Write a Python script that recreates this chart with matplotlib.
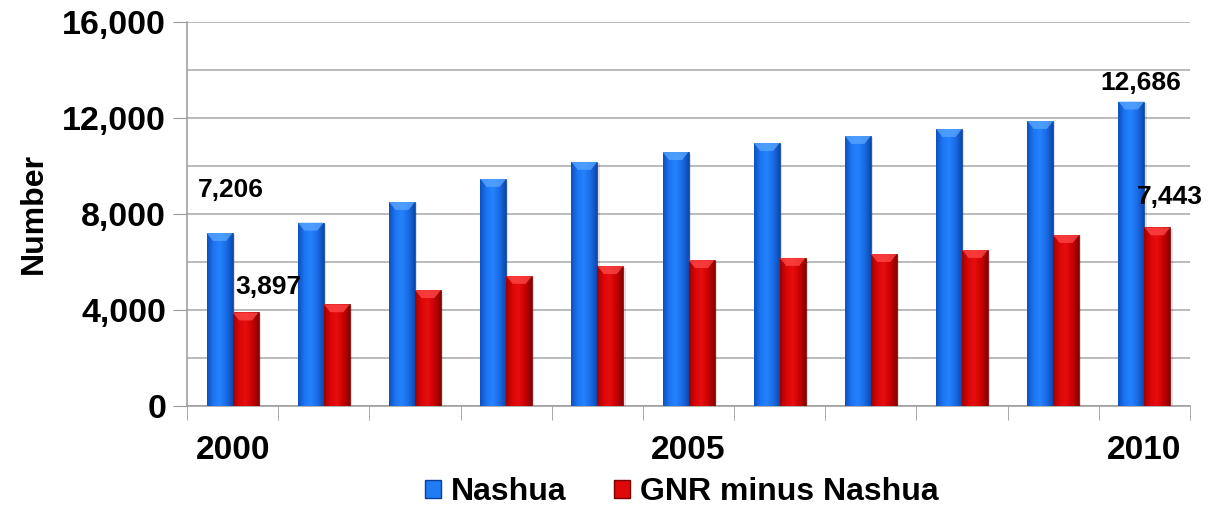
import numpy as np
import matplotlib.pyplot as plt
from matplotlib.colors import LinearSegmentedColormap
from matplotlib.patches import Polygon, Patch

plt.rcParams['font.family'] = ['Liberation Sans', 'DejaVu Sans']
plt.rcParams['font.weight'] = 'bold'

years = list(range(2000, 2011))
nashua = [7206, 7640, 8500, 9460, 10170, 10580, 10960, 11250, 11540, 11875, 12686]
gnr_minus = [3897, 4237, 4830, 5420, 5830, 6080, 6170, 6330, 6500, 7125, 7443]
year_labels = ['2000', '2005', '2010']

fig = plt.figure(figsize=(12.17, 5.08), dpi=100)
ax = fig.add_axes([0.1537, 0.2008, 0.8241, 0.7559])

x = np.arange(len(years))
w = 0.285

blue_cmap = LinearSegmentedColormap.from_list(
    'b', ['#0d50c0', '#1c76f2', '#2582fc', '#1a6ce6', '#0c49b0'])
red_cmap = LinearSegmentedColormap.from_list(
    'r', ['#a00000', '#dc0606', '#e60e0e', '#c80000', '#8a0000'])

grad = np.linspace(0, 1, 64).reshape(1, -1)


def shaded_bars(xs, vals, cmap, top_color, edge):
    bars = ax.bar(xs, vals, width=w, color='none', edgecolor=edge,
                  linewidth=0.6, zorder=3)
    for b in bars:
        x0, y0 = b.get_x(), b.get_y()
        bw, bh = b.get_width(), b.get_height()
        # soft shadow on the right
        ax.bar(x0 + bw / 2 + 0.025, bh, width=bw, bottom=y0 - 60,
               color='#000000', alpha=0.12, zorder=2, linewidth=0)
        im = ax.imshow(grad, cmap=cmap, aspect='auto',
                       extent=[x0, x0 + bw, y0, y0 + bh], zorder=3)
        im.set_clip_path(b)
        # bevelled top
        cap = Polygon([[x0, y0 + bh], [x0 + bw, y0 + bh],
                       [x0 + bw * 0.75, y0 + bh - 330],
                       [x0 + bw * 0.25, y0 + bh - 330]],
                      closed=True, color=top_color, alpha=0.75,
                      zorder=4, linewidth=0)
        ax.add_patch(cap)
    return bars


shaded_bars(x - w / 2, nashua, blue_cmap, '#5aa8ff', '#0a3f9a')
shaded_bars(x + w / 2, gnr_minus, red_cmap, '#ff4a4a', '#7a0000')

ax.set_xlim(-0.5, len(years) - 0.5)
ax.set_ylim(0, 16000)

# y axis
ax.set_yticks(np.arange(0, 16001, 4000))
ax.set_yticks(np.arange(2000, 16000, 4000), minor=True)
ax.set_yticklabels([f'{v:,}' for v in range(0, 16001, 4000)],
                   fontsize=24.5, fontweight='bold')
ax.tick_params(axis='y', which='major', length=10, color='#9a9a9a', pad=5)
ax.tick_params(axis='y', which='minor', length=0)
ax.grid(axis='y', which='both', color='#a8a8a8', linewidth=1.1, zorder=0)
ax.set_axisbelow(True)
ax.set_ylabel('Number', fontsize=23, fontweight='bold', labelpad=10)

# x axis: category boundary ticks, labels every five years
ax.set_xticks([years.index(int(y)) for y in year_labels])
ax.set_xticklabels(year_labels, fontsize=24, fontweight='bold')
ax.set_xticks(np.arange(-0.5, len(years), 1.0), minor=True)
ax.tick_params(axis='x', which='major', length=0, pad=21)
ax.tick_params(axis='x', which='minor', length=10, color='#9a9a9a')

for s in ['top', 'right']:
    ax.spines[s].set_visible(False)
for s in ['left', 'bottom']:
    ax.spines[s].set_color('#9a9a9a')
    ax.spines[s].set_linewidth(1.1)

# value labels on first and last years
lab = dict(fontsize=19, fontweight='bold', ha='center', va='center', zorder=5)
ax.text(-0.02, 9000, f'{nashua[0]:,}', **lab)
ax.text(0.39, 4960, f'{gnr_minus[0]:,}', **lab)
ax.text(9.96, 13460, f'{nashua[-1]:,}', **lab)
ax.text(10.28, 8710, f'{gnr_minus[-1]:,}', **lab)

handles = [Patch(facecolor='#1f7cf5', edgecolor='#0a3f9a'),
           Patch(facecolor='#e00808', edgecolor='#7a0000')]
fig.legend(handles, ['Nashua', 'GNR minus Nashua'], loc='lower center',
           bbox_to_anchor=(0.56, -0.055), ncol=2, frameon=False,
           prop={'size': 23, 'weight': 'bold'}, handlelength=0.5,
           handleheight=0.5, handletextpad=0.3, columnspacing=1.5)

fig.savefig('out.png', dpi=100)
